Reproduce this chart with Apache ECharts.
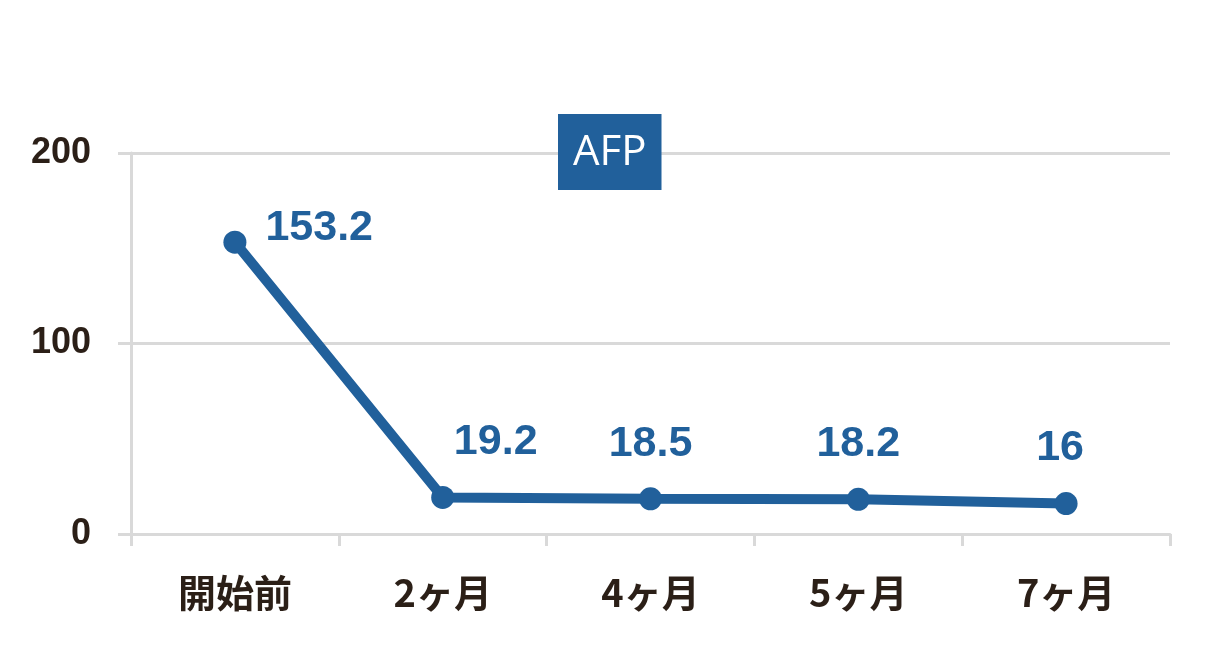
<!DOCTYPE html>
<html>
<head>
<meta charset="utf-8">
<script src="https://cdn.jsdelivr.net/npm/echarts@6/dist/echarts.min.js"></script>
<style>
html, body { margin: 0; padding: 0; background: #fff; }
#chart { width: 1221px; height: 659px; }
</style>
</head>
<body>
<div id="chart"></div>
<script>
// AFP の推移
var categories = ['開始前', '2ヶ月', '4ヶ月', '5ヶ月', '7ヶ月'];
var afpValues = [153.2, 19.2, 18.5, 18.2, 16];
var yTicks = [0, 100, 200];

var BLUE = '#21609b';
var DARK = '#2b1f17';
var GRID = '#d9d9d9';

// ラベル位置は点ごとに少し違う
var labelOffsets = [[0, 0], [53, 0], [0, 0], [0, 0], [-6, 0]];

function buildData() {
    var _d = [];
    for (var i = 0; i < afpValues.length; i++) {
        var item = { value: afpValues[i] };
        if (i == 0) {
            item.label = { position: 'right', distance: 19, offset: [0, -14] };
        } else {
            item.label = { position: 'top', distance: 22, offset: labelOffsets[i] };
        }
        _d.push(item);
    }
    return _d;
}

var myChart = echarts.init(document.getElementById('chart'));
var option = {
    animation: false,
    title: {
        text: 'AFP',
        left: 558,
        top: 114,
        backgroundColor: BLUE,
        padding: [16, 15, 14, 15],
        textStyle: {
            color: '#fff',
            fontSize: 42,
            fontWeight: 'normal',
            fontFamily: 'Open Sans',
            lineHeight: 46
        }
    },
    grid: {
        left: 131,
        right: 51,
        top: 153,
        bottom: 125,
        containLabel: false
    },
    xAxis: {
        type: 'category',
        data: categories,
        boundaryGap: true,
        axisLine: { show: true, lineStyle: { color: GRID, width: 3 } },
        axisTick: { show: true, length: 12, alignWithLabel: false, lineStyle: { color: GRID, width: 3 } },
        axisLabel: {
            margin: 40,
            color: DARK,
            fontSize: 38,
            fontWeight: 'bold',
            fontFamily: 'Noto Sans CJK JP'
        },
        splitLine: { show: false }
    },
    yAxis: {
        type: 'value',
        min: yTicks[0],
        max: yTicks[yTicks.length - 1],
        interval: 100,
        axisLine: { show: true, lineStyle: { color: GRID, width: 3 } },
        axisTick: { show: true, length: 13, lineStyle: { color: GRID, width: 3 } },
        axisLabel: {
            margin: 40,
            color: DARK,
            fontSize: 36,
            fontWeight: 'bold',
            fontFamily: 'Liberation Sans'
        },
        splitLine: { show: true, lineStyle: { color: GRID, width: 3 } }
    },
    series: [{
        name: 'AFP',
        type: 'line',
        data: buildData(),
        symbol: 'circle',
        symbolSize: 23,
        lineStyle: { color: BLUE, width: 10 },
        itemStyle: { color: BLUE },
        label: {
            show: true,
            color: BLUE,
            fontSize: 43,
            fontWeight: 'bold',
            fontFamily: 'Liberation Sans'
        }
    }]
};
myChart.setOption(option);
</script>
</body>
</html>
